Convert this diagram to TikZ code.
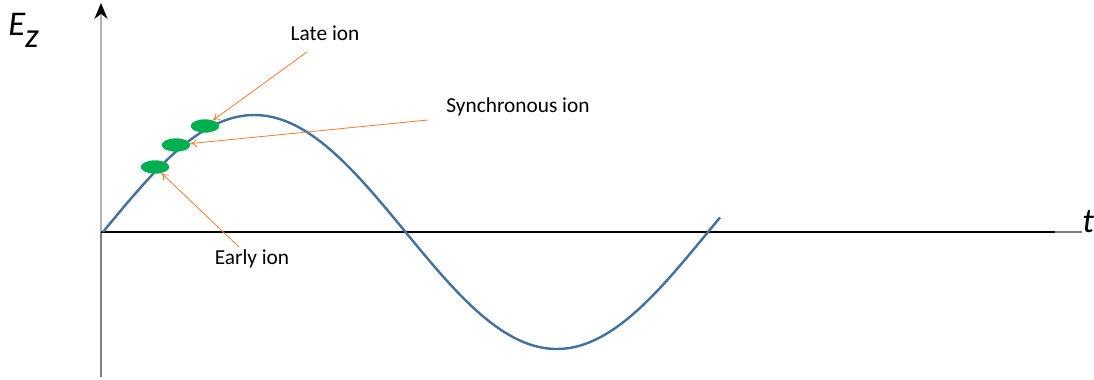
\documentclass[tikz,border=0pt]{standalone}
\usepackage{fontspec}
\setmainfont{Carlito}
\usetikzlibrary{arrows.meta, positioning, shapes}
\definecolor{onda}{HTML}{41719C}
\definecolor{naranja}{HTML}{ED7D31}
\definecolor{verde}{HTML}{00B050}

\begin{document}
\begin{tikzpicture}[x=0.75pt, y=-0.75pt,
      ion/.style={ellipse, fill=verde, minimum width=21.5pt, minimum height=10pt, inner sep=0pt},
      lbl/.style={font=\fontsize{16}{19}\selectfont, inner sep=0pt},
      pointer/.style={-{To[length=5pt, width=6pt]}, naranja, line width=0.6pt},
      wave/.style={onda, line width=1.8pt},
      axisname/.style={font=\fontsize{26}{30}\selectfont\itshape, inner sep=0pt} ]
    \useasboundingbox (0,0) rectangle (1094,379);

    % axes
    \coordinate (O) at (101,232);
    \coordinate (ytop) at (101,3);
    \coordinate (ybot) at (101,377);
    \coordinate (xmid) at (1055,232);
    \coordinate (xend) at (1082,232);
    \draw[gray, line width=1pt] (ybot) -- (O);
    \draw[gray!60, line width=1pt] (O) -- (101,83);
    \draw[gray!60, line width=1pt, -{Stealth[length=12pt, width=10pt, black]}] (101,83) -- (ytop);
    \draw[black, line width=0.8pt] (O) -- (xmid);
    \draw[gray, line width=1pt] (xmid) -- (xend);
    \node[axisname, anchor=base west] (ez) at (8,35) {E\raisebox{-9pt}{z}};
    \node[axisname, anchor=base west] (t) at (1082,232) {t};

    % field
    \draw[wave] plot[domain=103:720, samples=120] (\x, {232-117*sin((\x-103)/605*360)});

    % ions
    \node[ion] (early) at (155,167) {};
    \node[ion] (sync)  at (176,145) {};
    \node[ion] (late)  at (205,126) {};

    \node[lbl] (lateLbl)  at (325,33)  {Late ion};
    \node[lbl] (syncLbl)  at (518,107) {Synchronous ion};
    \node[lbl] (earlyLbl) at (252,259) {Early ion};

    \coordinate (lateFrom)  at (307,52);
    \coordinate (syncFrom)  at (428,120);
    \coordinate (earlyFrom) at (239,247);

    \draw[pointer] (lateFrom)  -- (late);
    \draw[pointer] (syncFrom)  -- (sync);
    \draw[pointer] (earlyFrom) -- (early);
  \end{tikzpicture}
\end{document}
